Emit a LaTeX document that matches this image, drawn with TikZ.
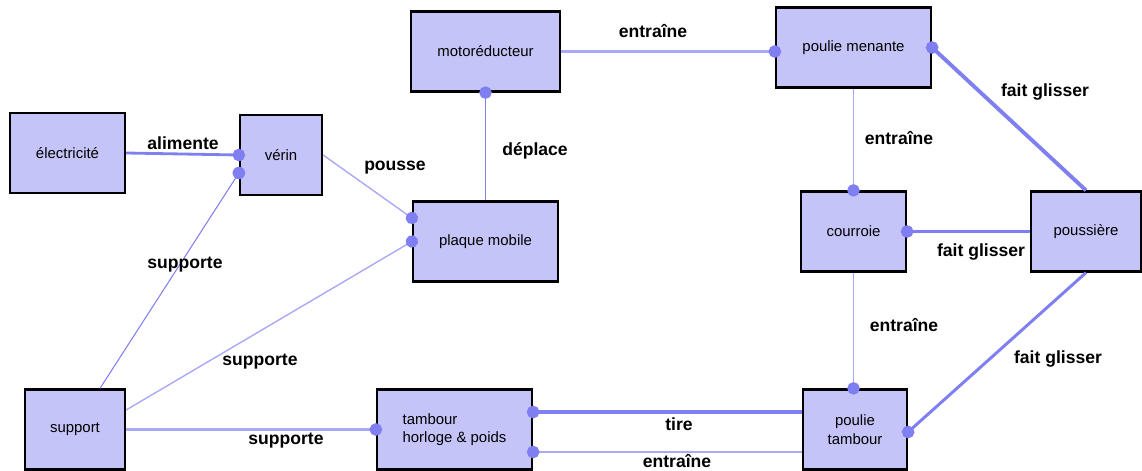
\documentclass[tikz,border=0pt]{standalone}
\usepackage{fontspec}
\setmainfont{Liberation Sans}
\usetikzlibrary{positioning,arrows.meta,calc}
\definecolor{boxfill}{HTML}{C4C4F8}
\definecolor{linkdark}{HTML}{7F7FF2}
\definecolor{linklight}{HTML}{A9A9F6}
\tikzset{
  blk/.style={draw=black, line width=1.3pt, fill=boxfill, align=center,
              font=\fontsize{8.5}{10.5}\selectfont, inner sep=2pt,
              minimum height=1.6cm},
  lbl/.style={font=\fontsize{10}{12}\selectfont\bfseries, inner sep=1pt},
  link/.style={draw=linkdark, line width=0.7pt},
  soft/.style={draw=linklight},
  dotend/.style={-{Circle[length=2.5mm, color=linkdark]}, shorten >=-1.25mm},
  dotstart/.style={{Circle[length=2.5mm, color=linkdark]}-, shorten <=-1.25mm},
}

\begin{document}
\begin{tikzpicture}[x=0.02cm, y=-0.02cm]
        \useasboundingbox (0,0) rectangle (1142,470);
        % boxes
        \node[blk, minimum width=2.3cm] (elec) at (67.5,153) {électricité};
        \node[blk, minimum width=1.64cm] (verin) at (281,155) {vérin};
        \node[blk, minimum width=2.98cm] (moto) at (485.5,51.5) {motoréducteur};
        \node[blk, minimum width=2.9cm] (plaque) at (485.5,241.5) {plaque mobile};
        \node[blk, minimum width=3.1cm] (menante) at (853.5,47.5) {poulie menante};
        \node[blk, minimum width=2.1cm] (courroie) at (853.5,231.5) {courroie};
        \node[blk, minimum width=2.2cm] (poussiere) at (1086,231.5) {poussière};
        \node[blk, minimum width=2cm] (support) at (75,429.5) {support};
        \node[blk, minimum width=3.1cm, align=left] (tambour) at (454.5,429.5)
          {tambour\\horloge \& poids};
        \node[blk, minimum width=2.08cm] (ptambour) at (855,429.5) {poulie\\tambour};
        % connectors
        \draw[link, line width=1.6pt, dotend] (elec.east) -- (verin.west);
        \draw[link, line width=0.6pt, dotend] ([xshift=0.5cm]support.north) -- ([yshift=-0.36cm]verin.west);
        \draw[link, soft, line width=0.8pt, dotend] (verin.east) -- ([yshift=0.47cm]plaque.west);
        \draw[link, soft, line width=0.8pt, dotend] ([yshift=0.39cm]support.east) -- (plaque.west);
        \draw[link, line width=0.9pt, dotstart] (moto.south) -- (plaque.north);
        \draw[link, soft, line width=1.7pt, dotend] (moto.east) -- (moto.east -| menante.west);
        \draw[link, soft, line width=0.9pt, dotend] (menante.south) -- (courroie.north);
        \draw[link, line width=2.2pt, dotstart] (menante.east) -- (poussiere.north);
        \draw[link, line width=2.2pt, dotend] (poussiere.west) -- (courroie.east);
        \draw[link, soft, line width=0.8pt, dotend] (courroie.south) -- (courroie.south |- ptambour.north);
        \draw[link, line width=1.7pt, dotend] (poussiere.south) -- ([yshift=-0.05cm]ptambour.east);
        \draw[link, soft, line width=1.7pt, dotend] (support.east) -- (tambour.west);
        \draw[link, line width=2.3pt, dotend] ([yshift=0.35cm]ptambour.west) -- ([yshift=0.35cm]tambour.east);
        \draw[link, soft, line width=1.7pt, dotend] ([yshift=-0.45cm]ptambour.west) -- ([yshift=-0.45cm]tambour.east);
        % labels
        \node[lbl] (lalim) at (183,143) {alimente};
        \node[lbl] (lsupv) at (185,265) {supporte};
        \node[lbl] (lpous) at (395,168) {pousse};
        \node[lbl] (ldepl) at (535,151) {déplace};
        \node[lbl] (lentra) at (653,31) {entraîne};
        \node[lbl] (lentrb) at (899,138) {entraîne};
        \node[lbl] (lfaita) at (1045,92) {fait glisser};
        \node[lbl] (lfaitb) at (981,252) {fait glisser};
        \node[lbl] (lentrc) at (904,325) {entraîne};
        \node[lbl] (lfaitc) at (1058,359) {fait glisser};
        \node[lbl] (lsupp) at (260,362) {supporte};
        \node[lbl] (lsupt) at (286,441) {supporte};
        \node[lbl] (ltire) at (679,424) {tire};
        \node[lbl] (lentrd) at (677,461) {entraîne};
      \end{tikzpicture}
\end{document}
